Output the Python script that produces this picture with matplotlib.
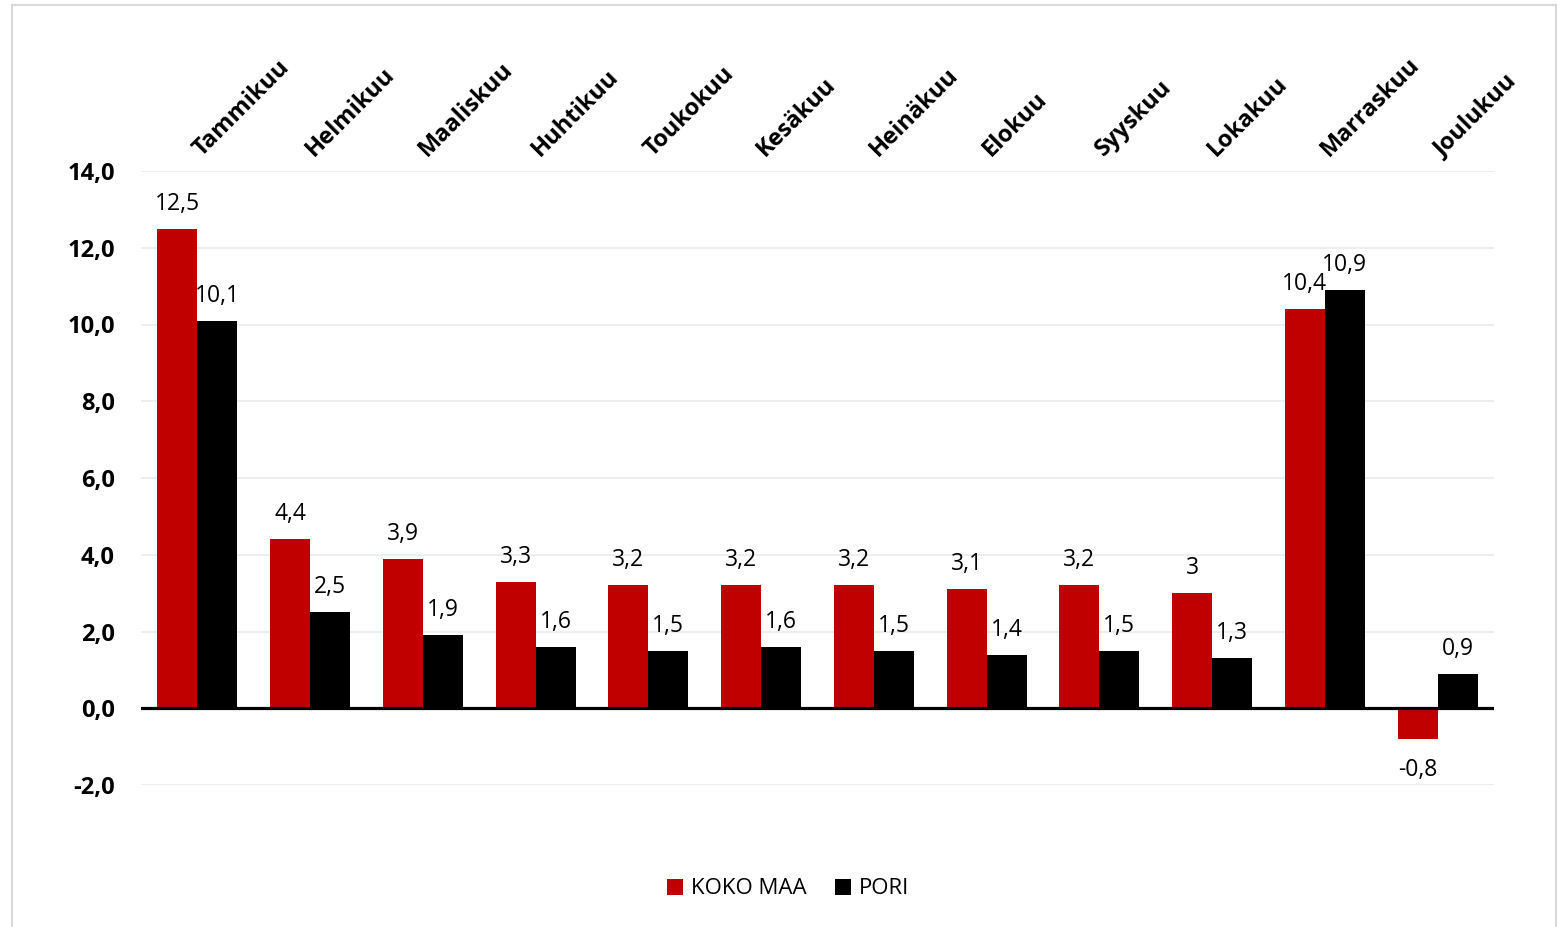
import numpy as np
import matplotlib
matplotlib.use("Agg")
import matplotlib.pyplot as plt
from matplotlib.patches import Rectangle

plt.rcParams['font.family'] = ['Open Sans', 'DejaVu Sans']

months = ["Tammikuu", "Helmikuu", "Maaliskuu", "Huhtikuu", "Toukokuu", "Kesäkuu",
          "Heinäkuu", "Elokuu", "Syyskuu", "Lokakuu", "Marraskuu", "Joulukuu"]
koko_maa = [12.5, 4.4, 3.9, 3.3, 3.2, 3.2, 3.2, 3.1, 3.2, 3.0, 10.4, -0.8]
pori = [10.1, 2.5, 1.9, 1.6, 1.5, 1.6, 1.5, 1.4, 1.5, 1.3, 10.9, 0.9]
yticks = [-2, 0, 2, 4, 6, 8, 10, 12, 14]

RED = "#C00000"
BLACK = "#000000"

fig = plt.figure(figsize=(15.64, 9.27), dpi=100)
ax = fig.add_axes([141/1564, 1 - 785/927, (1494-141)/1564, (785-171)/927])

x = np.arange(len(months))
w = 0.355
b1 = ax.bar(x - w/2, koko_maa, w, color=RED, label="KOKO MAA", zorder=3)
b2 = ax.bar(x + w/2, pori, w, color=BLACK, label="PORI", zorder=3)

def fmt(v):
    return f"{v:g}".replace(".", ",")

# data labels
for bars, vals in ((b1, koko_maa), (b2, pori)):
    for rect, v in zip(bars, vals):
        cx = rect.get_x() + rect.get_width()/2
        off = 18 if v >= 0 else -22.5
        ax.annotate(fmt(v), (cx, v), xytext=(0, off), textcoords="offset points",
                    ha="center", va="center", fontsize=16.5, color="#000000", zorder=4)

ax.set_xlim(-0.5, len(months) - 0.5)
ax.set_ylim(-2, 14)
ax.set_yticks(yticks)
ax.set_yticklabels([f"{t:.1f}".replace(".", ",") for t in yticks],
                   fontsize=17, fontweight="bold")
ax.tick_params(axis="y", length=0, pad=19)
ax.set_xticks([])
for s in ax.spines.values():
    s.set_visible(False)
ax.grid(axis="y", color="#EBEBEB", lw=1.2, zorder=0)
ax.axhline(0, color="black", lw=2.3, zorder=5)

# month names on top, rotated
for i, m in enumerate(months):
    ax.annotate(m, (i, 14), xytext=(3, 10), textcoords="offset points",
                rotation=45, rotation_mode="anchor", ha="left", va="baseline",
                fontsize=17, fontweight="bold", annotation_clip=False)

leg = fig.legend(handles=[b1, b2], loc="center", bbox_to_anchor=(788/1564, 1 - 889/927),
                 ncol=2, frameon=False, fontsize=16, handlelength=0.7, handleheight=0.7,
                 handletextpad=0.35, columnspacing=1.3)

# chart border
fig.patches.append(Rectangle((12/1564, -0.05), (1556-12)/1564, 1.05 - 5/927,
                             transform=fig.transFigure, fill=False,
                             edgecolor="#D9D9D9", lw=1.5))

fig.savefig("out.png", dpi=100)
